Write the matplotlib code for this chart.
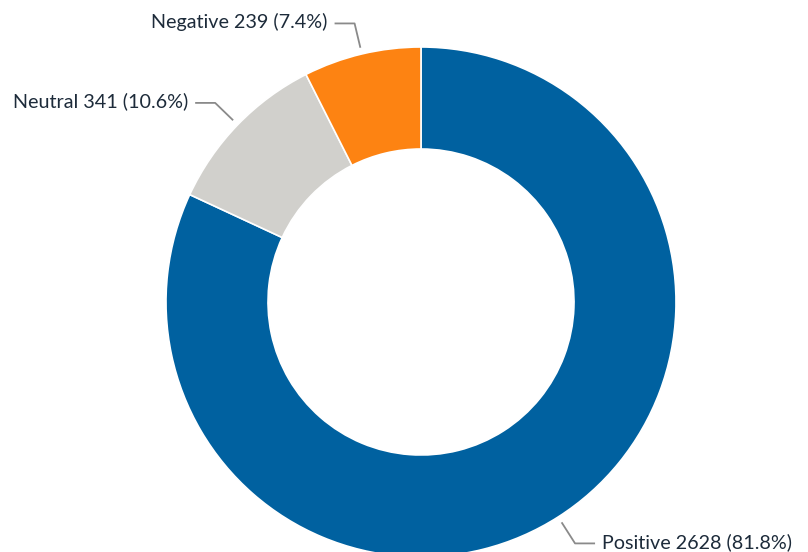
import numpy as np
import matplotlib
matplotlib.use("Agg")
import matplotlib.pyplot as plt

labels = ["Positive", "Neutral", "Negative"]
counts = [2628, 341, 239]
percents = [81.8, 10.6, 7.4]
colors = ["#0061a0", "#d1d0cc", "#fd8312"]

W, H = 808, 552
fig = plt.figure(figsize=(W / 100, H / 100), dpi=100)
ax = fig.add_axes([0, 0, 1, 1])

cx, cy, R = 421, 250, 255
wedges, _ = ax.pie(counts, colors=colors, startangle=90, counterclock=False,
                   center=(cx, cy), radius=R,
                   wedgeprops=dict(width=R * 0.4, edgecolor="white", linewidth=1.2),
                   frame=True)
ax.set_xlim(0, W)
ax.set_ylim(0, H)
ax.set_aspect("equal")
ax.axis("off")

for w, lab, c, p in zip(wedges, labels, counts, percents):
    ang = np.deg2rad((w.theta1 + w.theta2) / 2)
    d = np.array([np.cos(ang), np.sin(ang)])
    tip = np.array([cx, cy]) + d * R * 1.025
    elbow = tip + d * 25
    side = 1 if d[0] > 0 else -1
    end = elbow + np.array([side * 20, 0])
    ax.plot([tip[0], elbow[0], end[0]], [tip[1], elbow[1], end[1]],
            color="#8a8a8a", lw=1.3, solid_capstyle="butt")
    ax.text(end[0] + side * 7, end[1] + 1.5, f"{lab} {c} ({p}%)",
            ha="left" if side > 0 else "right", va="center",
            fontsize=14.2, family="Lato", color="#1d2b3a")

fig.savefig("out.png", dpi=100)
